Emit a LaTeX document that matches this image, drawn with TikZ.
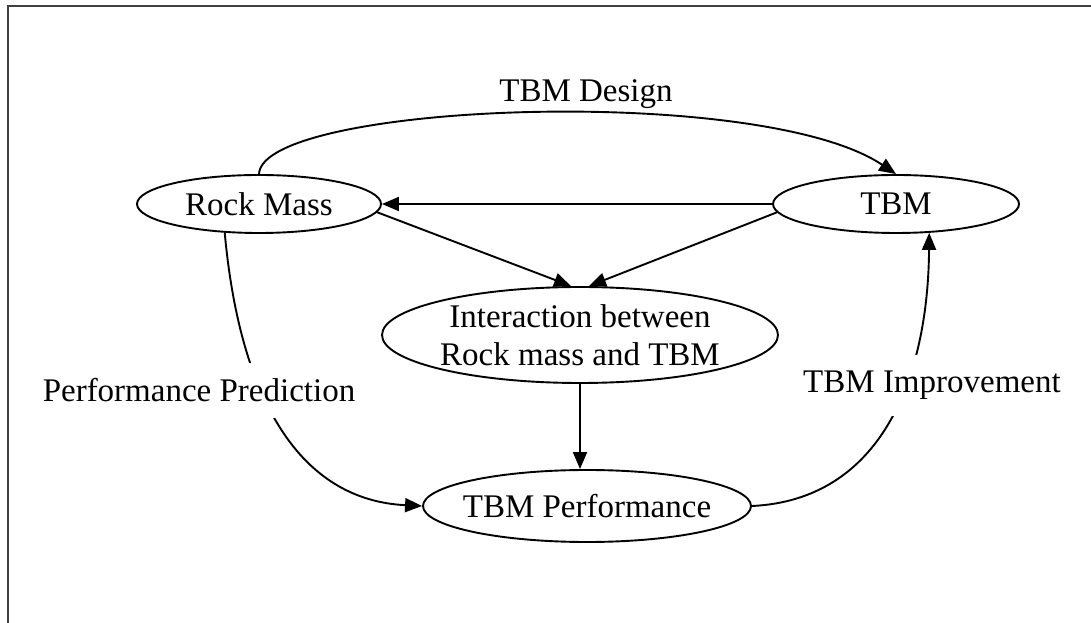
\documentclass[tikz,border=0pt]{standalone}
\usepackage{fontspec}
\setmainfont{Liberation Serif}
\usetikzlibrary{arrows.meta, shapes.geometric}

\begin{document}
\begin{tikzpicture}[
  x=1pt, y=1pt,
  >={Triangle[length=17pt,width=14pt]},
  oval/.style={draw, ellipse, line width=1.9pt, inner sep=0pt, align=center,
               font=\fontsize{33}{38}\selectfont},
  lbl/.style={font=\fontsize{33}{38}\selectfont, anchor=base,
              inner xsep=2pt, inner ysep=16pt},
  arr/.style={->, line width=1.9pt},
]
\useasboundingbox (0,0) rectangle (1091,623);
\draw[line width=2pt, black!75] (8,0) -- (8,617) -- (1091,617);
\node[oval, minimum width=244pt, minimum height=58pt] (a) at (259,419) {Rock Mass};
\node[oval, minimum width=246pt, minimum height=58pt] (b) at (896,419) {TBM};
\node[oval, minimum width=396pt, minimum height=96pt] (c) at (580,288) {Interaction between\\Rock mass and TBM};
\node[oval, inner xsep=-20pt, minimum width=328pt, minimum height=72pt] (d) at (587,117) {TBM Performance};
\draw[arr] (a.north) .. controls (262,520) and (760,540) .. (b.north);
\draw[arr] (b.west) -- (a.east);
\draw[arr] (a.-4) -- ([xshift=-9pt]c.north);
\draw[arr] (b.184) -- ([xshift=9pt]c.north);
\draw[arr] (c.south) -- (c.south |- d.north);
\draw[arr] (a.220) .. controls (240,223) and (300,123) .. (d.west);
\draw[arr] (d.east) .. controls (880,123) and (928,243) .. (b.-41);
\node[lbl] (e) at (586,521) {TBM Design};
\node[lbl, fill=white] (f) at (199,221) {Performance Prediction};
\node[lbl, fill=white] (g) at (932,230) {TBM Improvement};
\end{tikzpicture}
\end{document}
